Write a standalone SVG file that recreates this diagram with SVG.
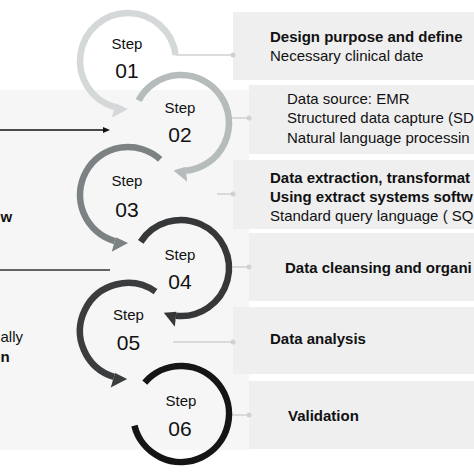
<svg xmlns="http://www.w3.org/2000/svg" width="474" height="474" viewBox="0 0 474 474">
<style>
text{font-family:"Liberation Sans",Arial,Helvetica,sans-serif;fill:#111}
.b{font-weight:bold;font-size:15px}
.r{font-size:15px}
.st{font-size:15px;text-anchor:middle}
.num{font-size:21px;text-anchor:middle}
.box{fill:#efeff0}
.ring{fill:none;stroke-width:6.5;stroke-linecap:butt}
.con{stroke:#cfd2d2;stroke-width:1.5;fill:none}
.dot{fill:#cfd2d2}
</style>
<rect width="474" height="474" fill="#fff"/>
<rect id="left-panel" x="0" y="90" width="249" height="360" fill="#f6f6f6"/>

<g id="left-texts">
<text class="b" x="0.5" y="222">w</text>
<text class="r" x="0.5" y="342">ally</text>
<text class="b" x="0.5" y="362">n</text>
</g>

<g id="boxes">
<g id="box1"><rect class="box" x="233" y="12" width="241" height="68"/>
<text class="b" x="270" y="41.5">Design purpose and define</text>
<text class="r" x="270" y="61">Necessary clinical date</text></g>
<g id="box2"><rect class="box" x="249" y="85" width="225" height="69"/>
<text class="r" x="287" y="104">Data source: EMR</text>
<text class="r" x="287" y="123">Structured data capture (SD</text>
<text class="r" x="287" y="142.5">Natural language processin</text></g>
<g id="box3"><rect class="box" x="233" y="160" width="241" height="69"/>
<text class="b" x="270" y="182.5">Data extraction, transformat</text>
<text class="b" x="270" y="201.5">Using extract systems softw</text>
<text class="r" x="270" y="220.5">Standard query language ( SQ</text></g>
<g id="box4"><rect class="box" x="249" y="233" width="225" height="68"/>
<text class="b" x="285" y="272.5">Data cleansing and organi</text></g>
<g id="box5"><rect class="box" x="233" y="307" width="241" height="67"/>
<text class="b" x="270" y="343.5">Data analysis</text></g>
<g id="box6"><rect class="box" x="249" y="381" width="225" height="68"/>
<text class="b" x="288" y="421">Validation</text></g>
</g>

<g id="connectors">
<line x1="0" y1="130" x2="104" y2="130" stroke="#111" stroke-width="1.5"/>
<polygon points="110,130 103,127 103,133" fill="#111"/>
<line x1="0" y1="270" x2="110" y2="270" stroke="#333" stroke-width="1.5"/>
<line class="con" x1="175.6" y1="55" x2="233" y2="55"/><circle class="dot" cx="233" cy="55" r="2.5"/>
<line class="con" x1="232" y1="118" x2="249" y2="118"/><circle class="dot" cx="249" cy="118" r="2.5"/>
<line class="con" x1="217" y1="194" x2="233" y2="194"/><circle class="dot" cx="233" cy="194" r="2.5"/>
<line class="con" x1="232" y1="267" x2="249" y2="267"/><circle class="dot" cx="249" cy="267" r="2.5"/>
<line class="con" x1="173" y1="342" x2="233" y2="342"/><circle class="dot" cx="233" cy="342" r="2.5"/>
<line class="con" x1="232" y1="415" x2="249" y2="415"/><circle class="dot" cx="249" cy="415" r="2.5"/>
</g>

<g id="step01">
<path class="ring" stroke="#d4d8d8" d="M175.64,55.15 A48,48 0 1 0 114.77,107.14"/>
<polygon fill="#d4d8d8" points="115.87,103.3 111.74,117.72 128,109"/>
<text class="st" x="127" y="49">Step</text>
<text class="num" x="127" y="78">01</text>
</g>
<g id="step02">
<path class="ring" stroke="#b6bbbc" d="M138.62,100.46 A48,48 0 1 1 186.02,170.74"/>
<polygon fill="#b6bbbc" points="185.6,166.76 187.17,181.68 173.49,170.41"/>
<text class="st" x="180" y="112.5">Step</text>
<text class="num" x="180" y="142">02</text>
</g>
<g id="step03">
<path class="ring" stroke="#7c8184" d="M160.12,159.33 A48,48 0 1 0 114.77,241.14"/>
<polygon fill="#7c8184" points="115.87,237.3 111.74,251.72 128,243"/>
<text class="st" x="127" y="186">Step</text>
<text class="num" x="127" y="217">03</text>
</g>
<g id="step04">
<path class="ring" stroke="#353739" d="M140.74,241.86 A48,48 0 1 1 175.98,315.74"/>
<polygon fill="#353739" points="176.4,311.76 174.83,326.68 163.8,312.81"/>
<text class="st" x="180" y="260">Step</text>
<text class="num" x="180" y="289">04</text>
</g>
<g id="step05">
<path class="ring" stroke="#3b3c3d" d="M155.53,291.68 A48,48 0 1 0 113.97,376.9"/>
<polygon fill="#3b3c3d" points="115.13,373.08 110.75,387.42 127.16,378.99"/>
<text class="st" x="128.5" y="320">Step</text>
<text class="num" x="128.5" y="350">05</text>
</g>
<g id="step06">
<path class="ring" stroke="#151515" d="M144.77,382.51 A48,48 0 1 1 134.43,425.61"/>
<text class="st" x="181" y="406">Step</text>
<text class="num" x="180" y="436">06</text>
</g>
</svg>
